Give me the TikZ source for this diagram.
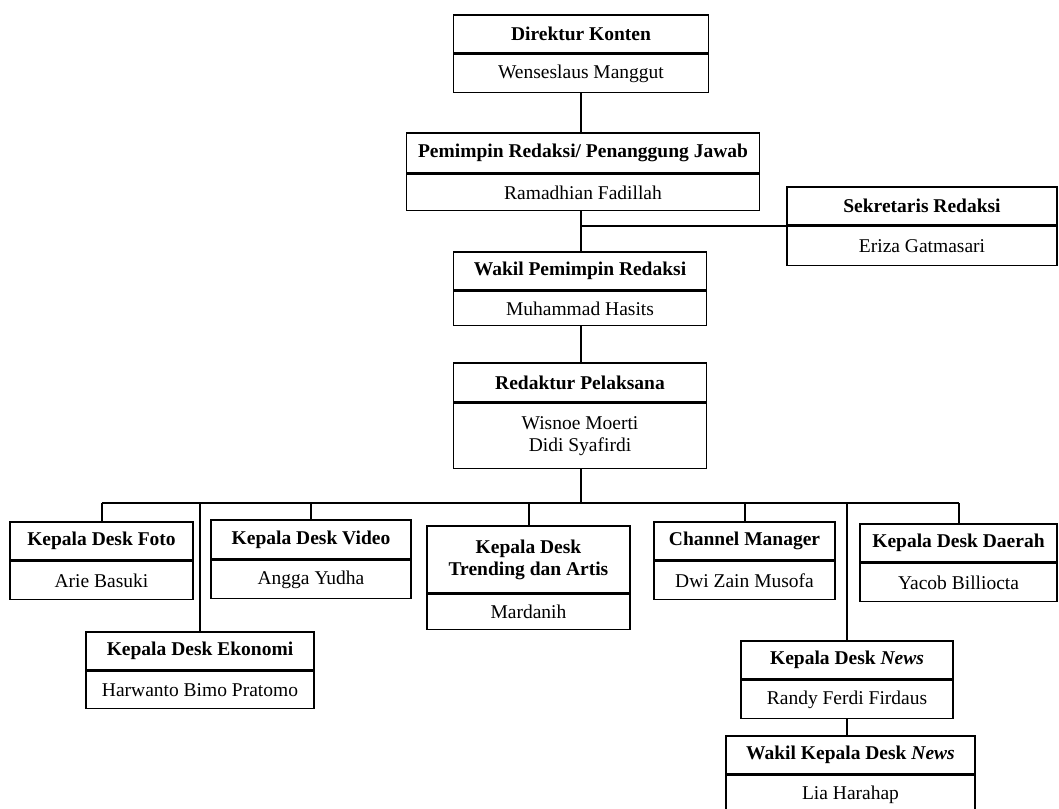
\documentclass[tikz,border=0pt]{standalone}
\usepackage{fontspec}
\setmainfont{Liberation Serif}
\usetikzlibrary{positioning}

\begin{document}
\begin{tikzpicture}[x=1pt, y=-1pt,
        head/.style={draw, line width=1.6pt, inner sep=0pt, minimum height=38pt,
                     align=center, font=\fontsize{19.5}{22}\selectfont\bfseries},
        person/.style={draw, line width=1.6pt, inner sep=0pt, minimum height=38pt,
                     align=center, font=\fontsize{19.5}{22}\selectfont},
        link/.style={line width=2pt},
      ]
      \useasboundingbox (0,0) rectangle (1059,808);
      % main column
      \node[head, minimum width=255pt] (dkh) at (581,34) {Direktur Konten};
      \node[person, minimum width=255pt, below=0pt of dkh] (dkn) {Wenseslaus Manggut};
      \node[head, minimum width=353pt, minimum height=40pt] (prh) at (583,153) {Pemimpin Redaksi/ Penanggung Jawab};
      \node[person, minimum width=353pt, minimum height=36pt, below=0pt of prh] (prn) {Ramadhian Fadillah};
      \node[head, minimum width=270pt] (srh) at (922,206) {Sekretaris Redaksi};
      \node[person, minimum width=270pt, minimum height=39pt, below=0pt of srh] (srn) {Eriza Gatmasari};
      \node[head, minimum width=253pt] (wph) at (580,271) {Wakil Pemimpin Redaksi};
      \node[person, minimum width=253pt, minimum height=34pt, below=0pt of wph] (wpn) {Muhammad Hasits};
      \node[head, minimum width=253pt, minimum height=39pt] (rph) at (580,382.5) {Redaktur Pelaksana};
      \node[person, minimum width=253pt, minimum height=65pt, below=0pt of rph] (rpn) {Wisnoe Moerti\\ Didi Syafirdi};
      % desks
      \node[head, minimum width=183pt] (fotoh) at (101.5,541) {Kepala Desk Foto};
      \node[person, minimum width=183pt, below=0pt of fotoh] (foton) {Arie Basuki};
      \node[head, minimum width=228pt] (ekoh) at (200,651) {Kepala Desk Ekonomi};
      \node[person, minimum width=228pt, minimum height=37pt, below=0pt of ekoh] (ekon) {Harwanto Bimo Pratomo};
      \node[head, minimum width=200pt, minimum height=39pt] (videoh) at (311,539.5) {Kepala Desk Video};
      \node[person, minimum width=200pt, below=0pt of videoh] (videon) {Angga Yudha};
      \node[head, minimum width=203pt, minimum height=67pt] (trendh) at (528.5,559.5) {Kepala Desk\\ Trending dan Artis};
      \node[person, minimum width=203pt, minimum height=35pt, below=0pt of trendh] (trendn) {Mardanih};
      \node[head, minimum width=181pt] (chanh) at (744.5,541) {Channel Manager};
      \node[person, minimum width=181pt, below=0pt of chanh] (chann) {Dwi Zain Musofa};
      \node[head, minimum width=212pt] (newsh) at (847,660) {Kepala Desk \textit{News}};
      \node[person, minimum width=212pt, below=0pt of newsh] (newsn) {Randy Ferdi Firdaus};
      \node[head, minimum width=197pt] (daerahh) at (958.5,543) {Kepala Desk Daerah};
      \node[person, minimum width=197pt, below=0pt of daerahh] (daerahn) {Yacob Billiocta};
      \node[head, minimum width=249pt] (wnewsh) at (850.5,755) {Wakil Kepala Desk \textit{News}};
      \node[person, minimum width=249pt, below=0pt of wnewsh] (wnewsn) {Lia Harahap};

      \coordinate (bus) at (0,503);
      \draw[link] (dkn.south) -- (dkn.south |- prh.north);
      \draw[link] (dkn.south |- prn.south) -- (dkn.south |- wph.north);
      \draw[link] (srh.south west) -- (srh.south west -| dkn.south);
      \draw[link] (dkn.south |- wpn.south) -- (dkn.south |- rph.north);
      \draw[link] (dkn.south |- rpn.south) -- (dkn.south |- bus);
      \draw[link] (foton.north |- bus) -- (daerahh.north |- bus);
      \foreach \desk in {fotoh, ekoh, videoh, trendh, chanh, newsh, daerahh}
        \draw[link] (\desk.north) -- (\desk.north |- bus);
      \draw[link] (newsn.south) -- (newsn.south |- wnewsh.north);
    \end{tikzpicture}
\end{document}
